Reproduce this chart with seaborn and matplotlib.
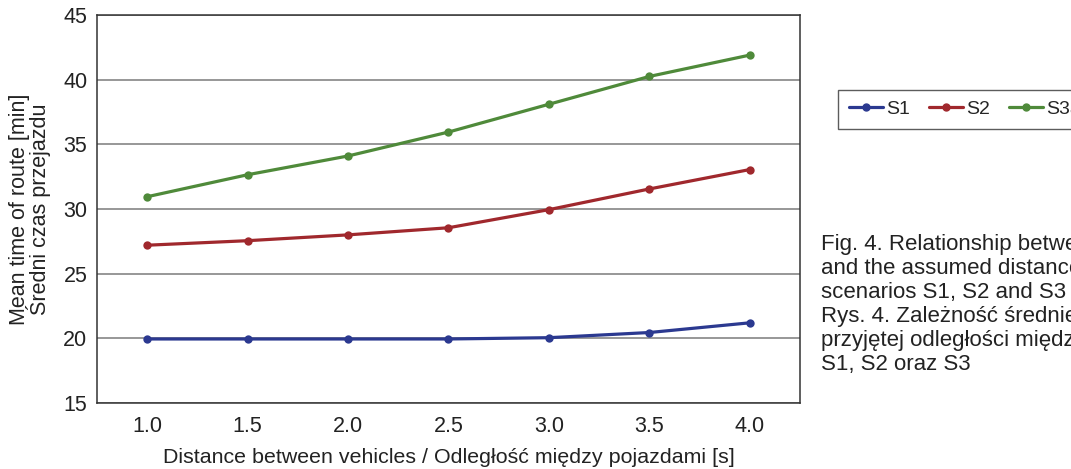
import numpy as np
import pandas as pd
import matplotlib
matplotlib.use('Agg')
import matplotlib.pyplot as plt
import seaborn as sns

# data
distances = ['1.0', '1.5', '2.0', '2.5', '3.0', '3.5', '4.0']
s1 = [19.95, 19.95, 19.95, 19.95, 20.05, 20.45, 21.2]
s2 = [27.2, 27.55, 28.0, 28.55, 29.95, 31.55, 33.05]
s3 = [30.95, 32.65, 34.1, 35.95, 38.1, 40.25, 41.9]
series_names = ['S1', 'S2', 'S3a']
colors = ['#2b3990', '#a0282d', '#4f8a3a']

caption_lines = [
    'Fig. 4. Relationship between the mean time of route',
    'and the assumed distance between vehicles for',
    'scenarios S1, S2 and S3',
    'Rys. 4. Zależność średniego czasu przejazdu od',
    'przyjętej odległości między pojazdami dla scenariuszy',
    'S1, S2 oraz S3',
]

df = pd.DataFrame({
    'distance': distances * 3,
    'time': s1 + s2 + s3,
    'series': np.repeat(series_names, len(distances)),
})

sns.set_style('white')
plt.rcParams['font.family'] = ['Liberation Sans', 'DejaVu Sans']

fig = plt.figure(figsize=(10.71, 4.69), dpi=100)
ax = fig.add_axes([97 / 1071, 1 - 403 / 469, (800 - 97) / 1071, (403 - 15) / 469])

sns.lineplot(data=df, x='distance', y='time', hue='series', palette=colors,
             marker='o', markersize=6, markeredgewidth=0, linewidth=2.3,
             sort=False, ax=ax, legend=False)

ax.set_xlim(-0.5, len(distances) - 0.5)
ax.set_ylim(15, 45)
ax.set_yticks(range(15, 46, 5))
ax.set_xticks(range(len(distances)))
ax.set_xticklabels(distances)
ax.set_xticks(np.arange(-0.5, len(distances), 1.0), minor=True)
ax.yaxis.grid(True, color='#8f8f8f', linewidth=1.3)
ax.set_axisbelow(True)

for sp in ax.spines.values():
    sp.set_color('#333333')
    sp.set_linewidth(1.1)
    sp.set_visible(True)

ax.tick_params(axis='y', which='major', direction='out', length=6, width=1,
               color='#333333', labelsize=15.5, pad=1, labelcolor='#222222')
ax.tick_params(axis='x', which='major', length=0, labelsize=15.5, pad=9,
               labelcolor='#222222')
ax.tick_params(axis='x', which='minor', direction='out', length=6, width=1,
               color='#333333')

ax.set_xlabel('Distance between vehicles / Odległość między pojazdami [s]',
              fontsize=15.4, color='#222222', labelpad=8)
ax.set_ylabel('Mean time of route [min]\nŚredni czas przejazdu',
              fontsize=15.5, color='#222222', labelpad=9, linespacing=0.78)

handles = [plt.Line2D([], [], color=c, marker='o', markersize=5, linewidth=2.3)
           for c in colors]
leg = fig.legend(handles, series_names, loc='upper left', ncol=3,
                 bbox_to_anchor=(838 / 1071, 1 - 90 / 469),
                 bbox_transform=fig.transFigure, frameon=True, fancybox=False,
                 fontsize=14, handlelength=1.75, handletextpad=0.15,
                 columnspacing=1.0, borderpad=0.55, borderaxespad=0)
leg.get_frame().set_edgecolor('#333333')
leg.get_frame().set_linewidth(1.0)

for i, line in enumerate(caption_lines):
    fig.text(821 / 1071, 1 - (250 + 24 * i) / 469, line, fontsize=16,
             color='#222222', va='baseline', ha='left')

fig.savefig('out.png', dpi=100)
